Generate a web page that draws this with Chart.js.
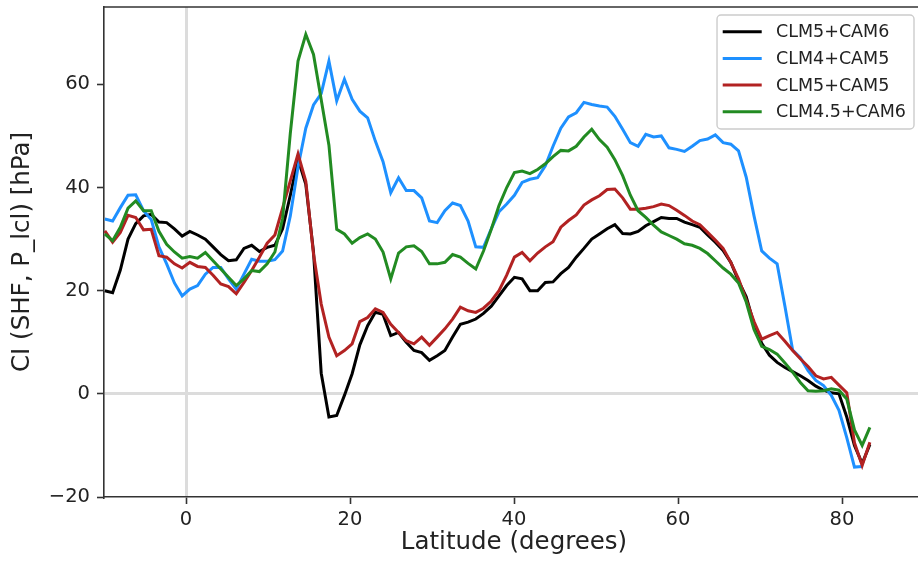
<!DOCTYPE html>
<html>
<head>
<meta charset="utf-8">
<script src="https://cdn.jsdelivr.net/npm/chart.js@4.4.0/dist/chart.umd.min.js"></script>
<style>
  html, body { margin: 0; padding: 0; background: #fff; overflow: hidden; }
  #wrap { width: 940px; height: 567px; }
</style>
</head>
<body>
<div id="wrap"><canvas id="ciChart" width="940" height="567"></canvas></div>
<script>
// latitude grid (degrees north)
const lats = [
  -9.9, -8.95, -8.01, -7.07, -6.13, -5.18, -4.24, -3.3, -2.36, -1.41,
  -0.47, 0.47, 1.41, 2.36, 3.3, 4.24, 5.18, 6.13, 7.07, 8.01,
  8.95, 9.9, 10.84, 11.78, 12.72, 13.66, 14.61, 15.55, 16.49, 17.43,
  18.38, 19.32, 20.26, 21.2, 22.15, 23.09, 24.03, 24.97, 25.92, 26.86,
  27.8, 28.74, 29.69, 30.63, 31.57, 32.51, 33.46, 34.4, 35.34, 36.28,
  37.23, 38.17, 39.11, 40.05, 40.99, 41.94, 42.88, 43.82, 44.76, 45.71,
  46.65, 47.59, 48.53, 49.48, 50.42, 51.36, 52.3, 53.25, 54.19, 55.13,
  56.07, 57.02, 57.96, 58.9, 59.84, 60.79, 61.73, 62.67, 63.61, 64.55,
  65.5, 66.44, 67.38, 68.32, 69.27, 70.21, 71.15, 72.09, 73.04, 73.98,
  74.92, 75.86, 76.81, 77.75, 78.69, 79.63, 80.58, 81.52, 82.46, 83.4
];

const clm5cam6 = [
  20, 19.6, 24, 30, 33, 34.5, 34.8, 33.3, 33.2, 32,
  30.6, 31.5, 30.8, 30, 28.5, 27, 25.8, 26, 28.2, 28.8,
  27.6, 28.4, 28.8, 32, 38.5, 45.5, 40.6, 27.5, 4, -4.5,
  -4.2, -0.3, 3.9, 9.5, 13.2, 15.8, 15.4, 11.3, 11.9, 10,
  8.4, 8, 6.5, 7.4, 8.4, 11, 13.5, 13.9, 14.5, 15.6,
  17, 19, 21, 22.6, 22.3, 20, 20, 21.6, 21.7, 23.3,
  24.5, 26.5, 28.2, 30, 31, 32, 32.8, 31.1, 31, 31.5,
  32.6, 33.4, 34.2, 34, 34, 33.3, 32.8, 32.3, 30.8, 29.4,
  27.8, 25.5, 21.9, 18.8, 13.5, 9.8, 7.5, 6.1, 5.1, 4.3,
  3.5, 2.6, 1.5, 0.7, 0.2, 0, -4.5, -10, -13.5, -9.8
];

const clm4cam5 = [
  33.9, 33.5, 36.1, 38.5, 38.6, 35.5, 33.8, 28.5, 25.2, 21.5,
  19, 20.3, 21, 23.2, 24.5, 24.5, 22.3, 20.3, 23.2, 26.1,
  25.7, 25.7, 26, 27.7, 34.5, 44, 51.5, 56, 58.2, 64.5,
  56.8, 61, 57.1, 54.8, 53.5, 49, 45, 39, 41.9, 39.4,
  39.4, 38, 33.5, 33.2, 35.5, 37, 36.5, 33.5, 28.5, 28.4,
  32, 35.3, 36.8, 38.5, 41, 41.6, 41.9, 44.2, 48, 51.5,
  53.7, 54.5, 56.5, 56.1, 55.8, 55.6, 53.8, 51.3, 48.7, 48,
  50.3, 49.8, 50, 47.7, 47.4, 47, 48, 49.1, 49.4, 50.2,
  48.7, 48.4, 47.1, 42, 34.5, 27.7, 26.3, 25.2, 17, 8.5,
  7, 4.5, 2.6, 1.6, -0.3, -3.2, -8.5, -14.2, -14.1, null
];

const clm5cam5 = [
  31.6, 29.4, 31.3, 34.6, 34.2, 31.8, 31.9, 26.8, 26.5, 25.2,
  24.4, 25.5, 24.7, 24.5, 23, 21.3, 20.8, 19.4, 21.6, 23.9,
  26.5, 29.2, 30.8, 36, 41.3, 46.5, 41.2, 27.1, 17.4, 11,
  7.4, 8.4, 9.7, 14, 14.8, 16.5, 15.8, 13.5, 11.9, 10.3,
  9.7, 11, 9.4, 11, 12.6, 14.5, 16.8, 16.1, 15.8, 16.6,
  18, 20, 23, 26.5, 27.4, 25.8, 27.3, 28.5, 29.5, 32.3,
  33.6, 34.7, 36.6, 37.6, 38.4, 39.6, 39.7, 38, 35.8, 35.8,
  36, 36.3, 36.8, 36.5, 35.6, 34.6, 33.5, 32.8, 31.3, 29.8,
  28.2, 25.5, 22.3, 18.2, 14, 10.6, 11.3, 11.9, 10.2, 8.4,
  6.8, 5.3, 3.5, 2.9, 3.2, 1.7, 0.2, -9.5, -13.9, -9.4
];

const clm45cam6 = [
  31, 29.7, 32.3, 36, 37.4, 35.5, 35.5, 31.5, 29, 27.5,
  26.3, 26.6, 26.3, 27.4, 25.8, 24.2, 22.6, 21, 22.3, 23.9,
  23.7, 25.2, 27.5, 34, 50.5, 64.5, 69.7, 65.8, 57, 48.2,
  31.9, 31, 29.2, 30.3, 31, 30, 27.5, 22.3, 27.3, 28.5,
  28.7, 27.6, 25.2, 25.2, 25.5, 27, 26.5, 25.3, 24.2, 27.7,
  31.9, 36.5, 40, 42.9, 43.2, 42.7, 43.5, 44.6, 46, 47.2,
  47.1, 48, 49.8, 51.3, 49.3, 47.8, 45.4, 42.3, 38.5, 35.5,
  34.2, 32.7, 31.4, 30.7, 30, 29.1, 28.8, 28.2, 27.2, 25.8,
  24.4, 23.2, 21.5, 17.8, 12.5, 9.2, 8.6, 7.7, 6, 4.2,
  2.2, 0.6, 0.5, 0.6, 1, 0.7, -1, -7, -10, -6.5
];

const seriesNames = ['CLM5+CAM6', 'CLM4+CAM5', 'CLM5+CAM5', 'CLM4.5+CAM6'];
const xTicks = [0, 20, 40, 60, 80];
const yTicks = [-20, 0, 20, 40, 60];

const FONT = "'DejaVu Sans', 'Noto Sans', sans-serif";
const TEXT = '#222';

function toPoints(vals) {
  return lats.map((lat, i) => ({ x: lat, y: vals[i] }));
}

function fmt(v) {
  return v < 0 ? '\u2212' + Math.abs(v) : String(v);
}

// top spine + legend box drawn by hand to get the framed look
const frameAndLegend = {
  id: 'frameAndLegend',
  afterDatasetsDraw(chart) {
    const { ctx, chartArea: a } = chart;
    ctx.save();
    ctx.strokeStyle = '#333';
    ctx.lineWidth = 1.6;
    ctx.beginPath();
    ctx.moveTo(a.left, a.top);
    ctx.lineTo(a.right, a.top);
    ctx.stroke();

    const ds = chart.data.datasets;
    ctx.font = '17.5px ' + FONT;
    const textW = Math.max(...ds.map(d => ctx.measureText(d.label).width));
    const rowH = 26.7;
    const w = 5.7 + 39 + 14.3 + textW + 8;
    const h = 114;
    const x0 = a.right - 10 - w;
    const y0 = a.top + 8;

    ctx.beginPath();
    ctx.roundRect(x0, y0, w, h, 4);
    ctx.fillStyle = 'rgba(255,255,255,0.8)';
    ctx.fill();
    ctx.strokeStyle = '#cccccc';
    ctx.lineWidth = 1.4;
    ctx.stroke();

    ctx.textBaseline = 'middle';
    ctx.textAlign = 'left';
    ds.forEach((d, i) => {
      const cy = y0 + 16.7 + i * rowH;
      ctx.strokeStyle = d.borderColor;
      ctx.lineWidth = 3;
      ctx.beginPath();
      ctx.moveTo(x0 + 5.7, cy);
      ctx.lineTo(x0 + 44.7, cy);
      ctx.stroke();
      ctx.fillStyle = TEXT;
      ctx.fillText(d.label, x0 + 59, cy + 1);
    });
    ctx.restore();
  }
};

const zeroGrid = c => (c.tick && c.tick.value === 0 ? '#dcdcdc' : 'rgba(0,0,0,0)');

new Chart(document.getElementById('ciChart'), {
  type: 'line',
  data: {
    datasets: [
      { label: seriesNames[0], data: toPoints(clm5cam6), borderColor: '#000000', order: 4 },
      { label: seriesNames[1], data: toPoints(clm4cam5), borderColor: '#1e90ff', order: 3 },
      { label: seriesNames[2], data: toPoints(clm5cam5), borderColor: '#b22222', order: 2 },
      { label: seriesNames[3], data: toPoints(clm45cam6), borderColor: '#228b22', order: 1 }
    ].map(d => Object.assign(d, {
      borderWidth: 3,
      pointRadius: 0,
      tension: 0,
      fill: false,
      spanGaps: false
    }))
  },
  options: {
    responsive: false,
    animation: false,
    devicePixelRatio: 1,
    layout: { padding: { top: 7, right: 16, left: 0, bottom: 0 } },
    plugins: {
      legend: { display: false },
      tooltip: { enabled: false }
    },
    scales: {
      x: {
        type: 'linear',
        min: -10,
        max: 90,
        afterBuildTicks: s => { s.ticks = xTicks.map(v => ({ value: v })); },
        afterFit: s => { s.height = 70; s.paddingLeft = 0; s.paddingRight = 0; },
        grid: {
          color: zeroGrid,
          lineWidth: 3,
          tickColor: '#333',
          tickWidth: 1.6,
          tickLength: 7
        },
        border: { display: true, color: '#333', width: 1.6 },
        ticks: {
          padding: 4,
          maxRotation: 0,
          color: TEXT,
          font: { family: FONT, size: 19.5 },
          callback: v => fmt(v)
        },
        title: {
          display: true,
          text: 'Latitude (degrees)',
          color: TEXT,
          font: { family: FONT, size: 24.5 },
          padding: { top: 0, bottom: 10 }
        }
      },
      y: {
        type: 'linear',
        min: -20,
        max: 75,
        afterBuildTicks: s => { s.ticks = yTicks.map(v => ({ value: v })); },
        afterFit: s => { s.width = 104; s.paddingTop = 0; s.paddingBottom = 0; },
        grid: {
          color: zeroGrid,
          lineWidth: 3,
          tickColor: '#333',
          tickWidth: 1.6,
          tickLength: 7
        },
        border: { display: true, color: '#333', width: 1.6 },
        ticks: {
          padding: 7,
          color: TEXT,
          font: { family: FONT, size: 19.5 },
          callback: v => fmt(v)
        },
        title: {
          display: true,
          text: 'CI (SHF, P_lcl) [hPa]',
          color: TEXT,
          font: { family: FONT, size: 24.5 },
          padding: { top: 8, bottom: 0 }
        }
      }
    }
  },
  plugins: [frameAndLegend]
});
</script>
</body>
</html>
